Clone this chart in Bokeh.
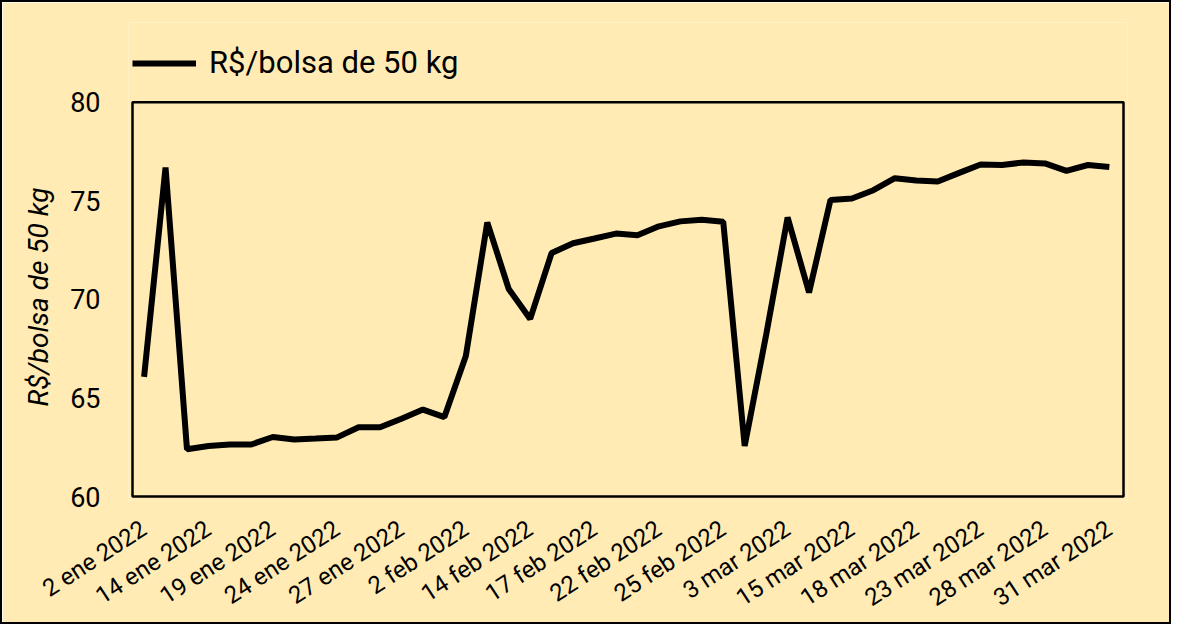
import math
from bokeh.plotting import figure
from bokeh.models import Range1d, FixedTicker, Legend, LegendItem, BoxAnnotation, Title
from bokeh.embed import file_html
from bokeh.resources import INLINE

series_name = "R$/bolsa de 50 kg"
tick_labels = ["2 ene 2022", "14 ene 2022", "19 ene 2022", "24 ene 2022", "27 ene 2022",
               "2 feb 2022", "14 feb 2022", "17 feb 2022", "22 feb 2022", "25 feb 2022",
               "3 mar 2022", "15 mar 2022", "18 mar 2022", "23 mar 2022", "28 mar 2022",
               "31 mar 2022"]
prices = [66.07, 76.69, 62.40, 62.56, 62.64, 62.64, 63.02, 62.89, 62.94, 63.00,
          63.51, 63.51, 63.95, 64.41, 64.03, 67.13, 73.91, 70.53, 69.01, 72.36,
          72.85, 73.09, 73.34, 73.26, 73.71, 73.96, 74.04, 73.94, 62.56, 68.20,
          74.16, 70.35, 75.05, 75.12, 75.54, 76.15, 76.03, 75.98, 76.42, 76.85,
          76.82, 76.95, 76.90, 76.52, 76.82, 76.72]
y_ticks = [60, 65, 70, 75, 80]
label_step = 3

x = list(range(len(prices)))
tick_pos = list(range(0, len(prices), label_step))

BG = "#FFEBB3"
FONT = "Roboto"

# plot box (data extent) and the pixel layout around it
box_x0, box_x1 = -0.54, 45.66
box_y0, box_y1 = y_ticks[0], y_ticks[-1]
px_x = 21.45          # px per x unit
px_y = 395 / 20       # px per y unit
pad = 4               # frame extends this far past the box
legend_room = 80      # extra frame height above the box for the legend

x_range = Range1d(box_x0 - pad / px_x, box_x1 + pad / px_x)
y_range = Range1d(box_y0 - pad / px_y, box_y1 + legend_room / px_y)

p = figure(width=1171, height=624, output_backend="svg", toolbar_location=None,
           x_range=x_range, y_range=y_range,
           min_border_left=126, min_border_right=46, min_border_top=20, min_border_bottom=125)
p.styles = {"border": "2px solid black"}
p.background_fill_color = BG
p.border_fill_color = BG
p.outline_line_color = None
p.xgrid.grid_line_color = None
p.ygrid.grid_line_color = None

p.add_layout(BoxAnnotation(left=box_x0, right=box_x1, bottom=box_y0, top=box_y1,
                           fill_alpha=0, line_color="black", line_alpha=1.0, line_width=2.5))

r = p.line(x, prices, line_color="black", line_width=6)

p.xaxis.ticker = FixedTicker(ticks=tick_pos)
p.xaxis.major_label_overrides = {t: lab for t, lab in zip(tick_pos, tick_labels)}
p.xaxis.major_label_orientation = math.radians(33)
p.yaxis.ticker = FixedTicker(ticks=y_ticks)
for ax in (p.xaxis[0], p.yaxis[0]):
    ax.axis_line_color = None
    ax.major_tick_line_color = None
    ax.minor_tick_line_color = None
    ax.major_label_text_font = FONT
    ax.major_label_text_color = "black"
p.xaxis.major_label_text_font_size = "24px"
p.xaxis.major_label_standoff = 20
p.yaxis.major_label_text_font_size = "27px"
p.yaxis.major_label_standoff = 22

ytitle = Title(text=series_name, align="left", offset=94, standoff=26,
               text_font=FONT, text_font_size="28px", text_font_style="italic",
               text_color="black")
p.add_layout(ytitle, "left")

legend = Legend(items=[LegendItem(label=series_name, renderers=[r])],
                location=(pad, 419), orientation="horizontal",
                background_fill_alpha=0, border_line_color=None,
                padding=0, margin=0, spacing=0,
                glyph_width=64, glyph_height=30, label_height=30,
                label_standoff=13, label_text_font=FONT,
                label_text_font_size="31px", label_text_color="black")
p.add_layout(legend, "center")

open("out.html", "w").write(file_html(p, INLINE))
